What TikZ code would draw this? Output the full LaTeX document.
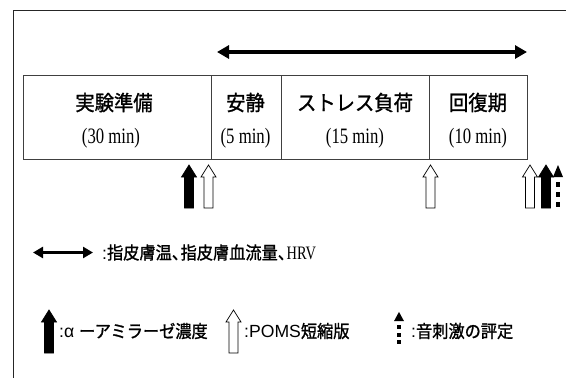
\documentclass[tikz,border=0pt]{standalone}
\usepackage{fontspec}
\setmainfont{Liberation Serif}
\newfontfamily\jpfont[FakeBold=1.2,FakeStretch=0.92]{Noto Sans CJK JP}
\newfontfamily\tallserif[FakeStretch=0.76]{Liberation Serif}
\newfontfamily\arialfont{Liberation Sans}
\newcommand\halfcomma{\makebox[0.5em][l]{、}}
\usetikzlibrary{arrows.meta}
\tikzset{
  frameline/.style={line width=0.9pt, draw=black!85},
  cell/.style={draw=black!75, line width=0.7pt, minimum height=84pt, inner sep=0pt, anchor=north west},
  jplabel/.style={font=\jpfont\fontsize{21}{22}\selectfont, inner sep=0pt},
  minlabel/.style={font=\tallserif\fontsize{22}{23}\selectfont, inner sep=0pt},
  legtext/.style={font=\jpfont\fontsize{17.6}{18}\selectfont, inner sep=0pt, anchor=west},
  spanarrow/.style={line width=3.6pt, {Triangle[length=12pt,width=13pt]}-{Triangle[length=12pt,width=13pt]}},
  legarrow/.style={line width=3pt, {Triangle[length=10pt,width=11pt]}-{Triangle[length=10pt,width=11pt]}},
  blockarrow/.pic={\draw[line width=0.7pt, pic actions] (-4.5,0) -- (-4.5,-31) -- (-7.5,-31) -- (0,-43) -- (7.5,-31) -- (4.5,-31) -- (4.5,0) -- cycle;},
  dotarrow/.pic={\fill[pic actions] (-5,-31) -- (0,-43) -- (5,-31) -- cycle;
    \fill[pic actions] (-2.3,-1) rectangle (2.3,-6);
    \fill[pic actions] (-2.3,-11) rectangle (2.3,-16);
    \fill[pic actions] (-2.3,-21) rectangle (2.3,-26);},
}
\begin{document}
\begin{tikzpicture}[x=1pt,y=-1pt]
\useasboundingbox (0,0) rectangle (566,378);
% frame
\coordinate (fa) at (13.5,378);
\coordinate (fb) at (13.5,10);
\coordinate (fc) at (566,10);
\draw[frameline] (fa) -- (fb) -- (fc);
% top span arrow
\coordinate (sa) at (217,52);
\coordinate (sb) at (527,52);
\draw[spanarrow] (sa) -- (sb);
% cells
\node[cell, minimum width=188.5pt] (c1) at (22.5,75) {};
\node[cell, minimum width=69.5pt] (c2) at (211,75) {};
\node[cell, minimum width=148.5pt] (c3) at (280.5,75) {};
\node[cell, minimum width=98pt] (c4) at (429,75) {};
\node[jplabel] (t1) at (114,102.5) {実験準備};
\node[minlabel] (m1) at (111,138.5) {(30 min)};
\node[jplabel] (t2) at (245.5,102.5) {安静};
\node[minlabel] (m2) at (245.5,138.5) {(5 min)};
\node[jplabel] (t3) at (355,102.5) {ストレス負荷};
\node[minlabel] (m3) at (355,138.5) {(15 min)};
\node[jplabel] (t4) at (478,102.5) {回復期};
\node[minlabel] (m4) at (478,138.5) {(10 min)};
% measurement arrows
\pic[fill=black] at (189,208) {blockarrow};
\pic[fill=white] at (208.5,208) {blockarrow};
\pic[fill=white] at (430.5,208) {blockarrow};
\pic[fill=white] at (530,208) {blockarrow};
\pic[fill=black] at (546,208) {blockarrow};
\pic[fill=black] at (558,208) {dotarrow};
% legend row 1
\coordinate (la) at (33,252.5);
\coordinate (lb) at (93,252.5);
\draw[legarrow] (la) -- (lb);
\node[legtext] (lt1) at (102,252.5) {{\arialfont :}指皮膚温\halfcomma 指皮膚血流量\halfcomma{\tallserif\fontsize{19}{20}\selectfont HRV}};
% legend row 2
\pic[fill=black] at (49,353) {blockarrow};
\node[legtext] (lt2) at (59,331) {{\arialfont :α }ーアミラーゼ濃度};
\pic[fill=white] at (233.5,353) {blockarrow};
\node[legtext] (lt3) at (244,331) {{\arialfont :POMS}短縮版};
\pic[fill=black, yscale=0.77] at (399,345) {dotarrow};
\node[legtext] (lt4) at (411,331) {{\arialfont :}音刺激の評定};
\end{tikzpicture}
\end{document}
